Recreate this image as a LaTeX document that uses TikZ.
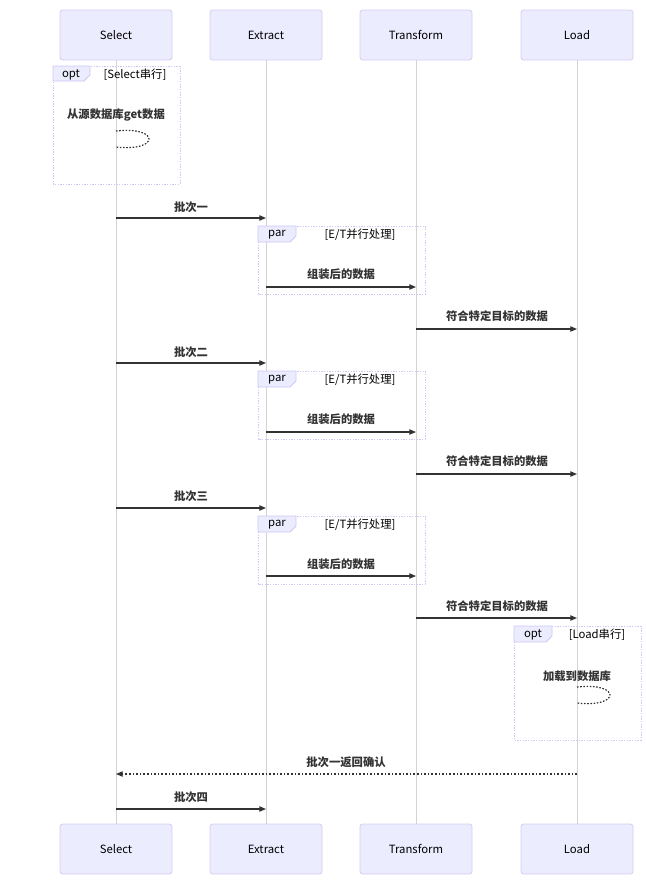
\documentclass[tikz,border=0pt]{standalone}
\usepackage{fontspec}
\setmainfont{Noto Sans CJK SC}
\usetikzlibrary{arrows.meta}
\definecolor{actfill}{HTML}{ECECFF}
\definecolor{actdraw}{HTML}{D6CCF2}
\definecolor{lifec}{HTML}{D3D3D3}
\definecolor{msgc}{HTML}{333333}
\definecolor{loopc}{HTML}{CFC6F5}
\tikzset{
  actor/.style={draw=actdraw,fill=actfill,rounded corners=2pt,minimum width=84pt,minimum height=37.5pt,font=\fontsize{8.5}{10}\selectfont,line width=0.6pt},
  life/.style={draw=lifec,line width=0.6pt},
  msg/.style={draw=msgc,line width=0.9pt,-{Triangle[length=5pt,width=4pt]}},
  ret/.style={draw=msgc,line width=0.9pt,dash pattern=on 1.2pt off 1.5pt,-{Triangle[length=5pt,width=4pt]}},
  mlabel/.style={font=\bfseries\fontsize{8.5}{10}\selectfont,text=msgc,inner sep=0pt},
  frame/.style={draw=loopc,dash pattern=on 1pt off 1pt,line width=0.7pt},
  tab/.style={draw=loopc,fill=actfill,line width=0.6pt},
  tabtxt/.style={font=\fontsize{8.5}{10}\selectfont,text=black,inner sep=0pt},
  selfloop/.style={draw=msgc,dash pattern=on 1.2pt off 1.2pt,line width=0.9pt}
}
\begin{document}
\begin{tikzpicture}[x=0.75pt,y=-0.75pt]
\useasboundingbox (0,0) rectangle (646,886);
% actors
\node[actor] (s1) at (116,35) {Select};
\node[actor] (e1) at (266,35) {Extract};
\node[actor] (t1) at (416,35) {Transform};
\node[actor] (l1) at (577,35) {Load};
\node[actor] (s2) at (116,849) {Select};
\node[actor] (e2) at (266,849) {Extract};
\node[actor] (t2) at (416,849) {Transform};
\node[actor] (l2) at (577,849) {Load};
% lifelines
\draw[life] (s1.south) -- (s2.north);
\draw[life] (e1.south) -- (e2.north);
\draw[life] (t1.south) -- (t2.north);
\draw[life] (l1.south) -- (l2.north);
% opt Select
\draw[frame] (53,66) rectangle (180,184);
\draw[tab] (53,66) -- (90,66) -- (90,75) -- (84,81) -- (53,81) -- cycle;
\node[tabtxt] (o1t) at (71,75) {opt};
\node[tabtxt] (o1c) at (135,75) {[Select串行]};
\node[mlabel] (m0) at (116,115) {从源数据库get数据};
\coordinate (sa) at (116,131);
\coordinate (sb) at (116,147);
\draw[selfloop] (sa) .. controls (160,126) and (160,152) .. (sb);
% batch 1
\coordinate (b1s) at (116,218); \coordinate (b1e) at (266,218);
\node[mlabel] (b1l) at (191,207) {批次一};
\draw[msg] (b1s) -- (b1e);
\draw[frame] (258,226) rectangle (425,294);
\draw[tab] (258,226) -- (296,226) -- (296,236) -- (290,242) -- (258,242) -- cycle;
\node[tabtxt] (p1t) at (277,235) {par};
\node[tabtxt] (p1c) at (360,235) {[E/T并行处理]};
\node[mlabel] (z1l) at (341,274) {组装后的数据};
\coordinate (z1s) at (266,287); \coordinate (z1e) at (416,287);
\draw[msg] (z1s) -- (z1e);
\node[mlabel] (f1l) at (497,316) {符合特定目标的数据};
\coordinate (f1s) at (416,329); \coordinate (f1e) at (577,329);
\draw[msg] (f1s) -- (f1e);
% batch 2
\coordinate (b2s) at (116,363); \coordinate (b2e) at (266,363);
\node[mlabel] (b2l) at (191,352) {批次二};
\draw[msg] (b2s) -- (b2e);
\draw[frame] (258,371) rectangle (425,439);
\draw[tab] (258,371) -- (296,371) -- (296,381) -- (290,387) -- (258,387) -- cycle;
\node[tabtxt] (p2t) at (277,380) {par};
\node[tabtxt] (p2c) at (360,380) {[E/T并行处理]};
\node[mlabel] (z2l) at (341,419) {组装后的数据};
\coordinate (z2s) at (266,432); \coordinate (z2e) at (416,432);
\draw[msg] (z2s) -- (z2e);
\node[mlabel] (f2l) at (497,461) {符合特定目标的数据};
\coordinate (f2s) at (416,474); \coordinate (f2e) at (577,474);
\draw[msg] (f2s) -- (f2e);
% batch 3
\coordinate (b3s) at (116,508); \coordinate (b3e) at (266,508);
\node[mlabel] (b3l) at (191,496) {批次三};
\draw[msg] (b3s) -- (b3e);
\draw[frame] (258,516) rectangle (425,584);
\draw[tab] (258,516) -- (296,516) -- (296,526) -- (290,532) -- (258,532) -- cycle;
\node[tabtxt] (p3t) at (277,525) {par};
\node[tabtxt] (p3c) at (360,525) {[E/T并行处理]};
\node[mlabel] (z3l) at (341,564) {组装后的数据};
\coordinate (z3s) at (266,576); \coordinate (z3e) at (416,576);
\draw[msg] (z3s) -- (z3e);
\node[mlabel] (f3l) at (497,606) {符合特定目标的数据};
\coordinate (f3s) at (416,618); \coordinate (f3e) at (577,618);
\draw[msg] (f3s) -- (f3e);
% opt Load
\draw[frame] (514,626) rectangle (641,740);
\draw[tab] (514,626) -- (552,626) -- (552,636) -- (546,642) -- (514,642) -- cycle;
\node[tabtxt] (o2t) at (533,635) {opt};
\node[tabtxt] (o2c) at (597,635) {[Load串行]};
\node[mlabel] (m4) at (577,676) {加载到数据库};
\coordinate (la) at (577,687);
\coordinate (lb) at (577,703);
\draw[selfloop] (la) .. controls (621,682) and (621,708) .. (lb);
% return
\node[mlabel] (rl) at (346,762) {批次一返回确认};
\coordinate (rs) at (577,774); \coordinate (re) at (116,774);
\draw[ret] (rs) -- (re);
% batch 4
\coordinate (b4s) at (116,809); \coordinate (b4e) at (266,809);
\node[mlabel] (b4l) at (191,797) {批次四};
\draw[msg] (b4s) -- (b4e);
\end{tikzpicture}
\end{document}
